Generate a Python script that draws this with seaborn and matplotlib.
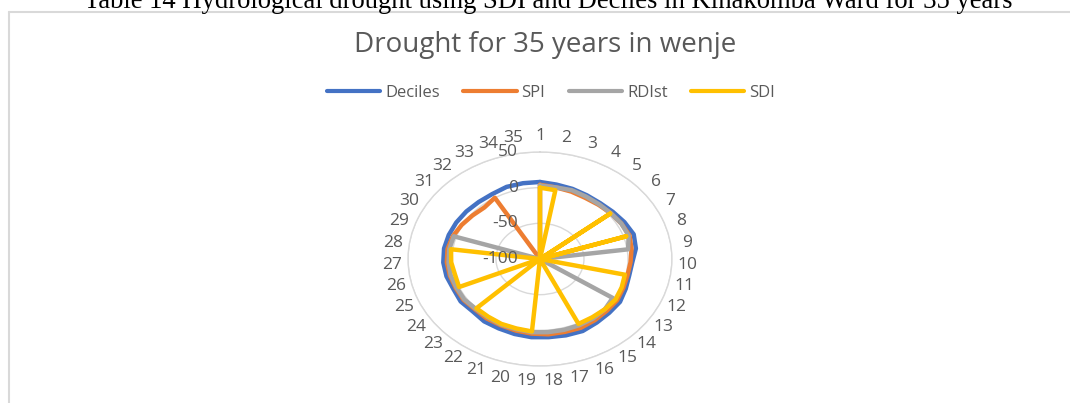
import numpy as np
import pandas as pd
import seaborn as sns
import matplotlib.pyplot as plt
from matplotlib.lines import Line2D
from matplotlib.transforms import offset_copy

sns.set_style("white")
plt.rcParams['font.family'] = ['Open Sans', 'DejaVu Sans']

# values (35 years, radial axis -100 .. 50)
years = list(range(1, 36))
deciles = [8, 6, 5, 4, 4, 6, 9, 12, 10, 5, 4, 6, 9, 9, 10, 12, 11, 10,
           10, 9, 8, 8, 6, 8, 7, 9, 10, 10, 9, 8, 7, 6, 6, 8, 8]
spi = [4, 2, 1, 0, 1, 3, 5, 7, 5, 3, 2, 3, 5, 5, 6, 7, 6, 6,
       5, 4, 3, 3, 2, 4, 4, 5, 6, 6, 4, 1, -2, -4, 0, -100, -100]
rdist = [3, 2, 3, 2, 2, 3, 5, 6, 1, -100, -100, -100, -1, 2, 3, 3, 3, 3,
         3, 2, 2, 1, 1, 3, 3, 4, 4, 4, 3, -100, -100, -100, -100, -100, -100]
sdi = [0, -2, -100, -100, -100, 2, -100, 3, -100, -100, -1, 1, 3, 2, 1, 1, -100, -100,
       2, 1, 1, 0, 0, -100, 0, -1, 1, 2, -100, -100, -100, -100, -100, -100, -100]
r_ticks = [-100, -50, 0, 50]

names = ["Deciles", "SPI", "RDIst", "SDI"]
colors = ["#4472C4", "#ED7D31", "#A5A5A5", "#FFC000"]
text_col = "#595959"
grid_col = "#D9D9D9"

theta = np.linspace(0, 2 * np.pi, len(years), endpoint=False)

# long table, each series closed back onto its first point
rows = []
for name, vals in zip(names, [deciles, spi, rdist, sdi]):
    for t, v in zip(list(theta) + [2 * np.pi], list(vals) + [vals[0]]):
        rows.append({"theta": t, "value": v, "series": name})
df = pd.DataFrame(rows)

fig = plt.figure(figsize=(10.7, 4.03), dpi=100)
ax = fig.add_axes([0.3813, 0.0918, 0.2467, 0.531], projection="polar")
ax.set_aspect("auto")
ax.set_theta_zero_location("N")
ax.set_theta_direction(-1)

sns.lineplot(data=df, x="theta", y="value", hue="series", hue_order=names,
             palette=colors, linewidth=3.2, sort=False, estimator=None,
             legend=False, ax=ax, solid_joinstyle="round")
ax.set_xlabel("")
ax.set_ylabel("")

ax.set_ylim(-100, 50)
ax.set_yticks(r_ticks)
ax.set_yticklabels([])
ax.yaxis.grid(True, color=grid_col, lw=1)
ax.xaxis.grid(False)
ax.spines["polar"].set_color(grid_col)
ax.spines["polar"].set_linewidth(1)

ax.set_xticks(theta)
ax.set_xticklabels([str(y) for y in years], fontsize=12.5, color=text_col)
ax.tick_params(axis="x", pad=1)

# radial value labels sit just left of the top spoke
lab_tr = offset_copy(ax.transData, fig=fig, x=-22, y=0, units="dots")
for v in r_ticks:
    ax.text(0, v, str(v), transform=lab_tr, ha="right", va="center",
            fontsize=12.5, color=text_col)

fig.text(545 / 1070, 1 - 45 / 403, "Drought for 35 years in wenje",
         ha="center", va="center", fontsize=20, color=text_col)

handles = [Line2D([], [], color=c, lw=3) for c in colors]
fig.legend(handles, names, loc="center", bbox_to_anchor=(551 / 1070, 1 - 93 / 403),
           ncol=4, frameon=False, fontsize=12, handlelength=3.2,
           handletextpad=0.3, columnspacing=1.4, labelcolor=text_col)

# caption of the page, cut off at the top of the screenshot
fig.text(548 / 1070, 1 - 8 / 403,
         "Table 14 Hydrological drought using SDI and Deciles in Kinakomba Ward for 35 years",
         ha="center", va="baseline", fontsize=19.2, family="Liberation Serif", color="black")

# chart frame
fig.add_artist(Line2D([9 / 1070, 9 / 1070], [0, 1 - 11.5 / 403], transform=fig.transFigure,
                      color=grid_col, lw=1.5))
fig.add_artist(Line2D([9 / 1070, 1], [1 - 11.5 / 403, 1 - 11.5 / 403], transform=fig.transFigure,
                      color=grid_col, lw=1.5))

fig.savefig("out.png", dpi=100)
